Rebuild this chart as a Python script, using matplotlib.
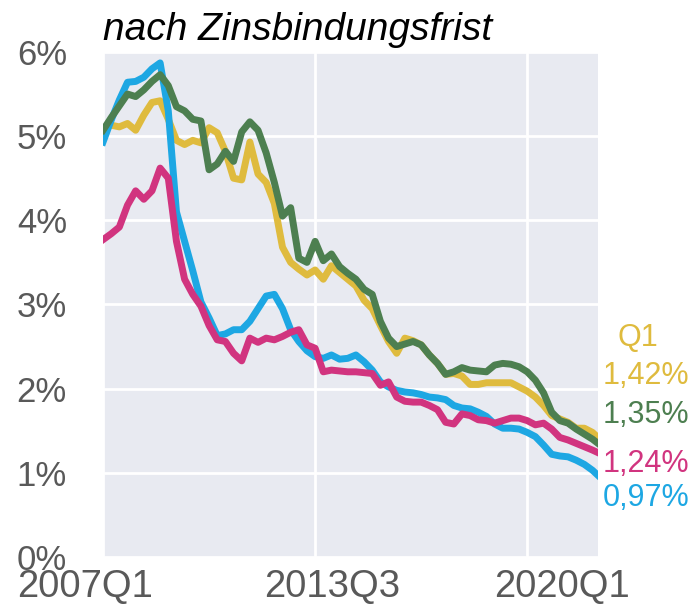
import numpy as np
import matplotlib
matplotlib.use('Agg')
from matplotlib import pyplot as plt

# monthly axis, 0 = Jan 2007, values read every quarter (last point = Mar 2022)
months = list(range(0, 181, 3)) + [182]

gold = [5.10, 5.13, 5.11, 5.15, 5.07, 5.25, 5.40, 5.42, 5.20, 4.95, 4.90, 4.95, 4.92, 5.10, 5.04, 4.82,
        4.50, 4.48, 4.93, 4.55, 4.45, 4.20, 3.68, 3.50, 3.42, 3.35, 3.41, 3.30, 3.46, 3.38, 3.30, 3.22,
        3.05, 2.95, 2.75, 2.56, 2.42, 2.60, 2.57, 2.52, 2.40, 2.30, 2.17, 2.18, 2.15, 2.05, 2.05, 2.07,
        2.07, 2.07, 2.07, 2.02, 1.97, 1.90, 1.80, 1.68, 1.64, 1.60, 1.53, 1.53, 1.48, 1.42]
green = [5.07, 5.22, 5.36, 5.50, 5.47, 5.55, 5.65, 5.73, 5.60, 5.35, 5.30, 5.20, 5.18, 4.60, 4.67, 4.82,
         4.70, 5.05, 5.17, 5.07, 4.80, 4.45, 4.05, 4.15, 3.55, 3.50, 3.75, 3.52, 3.60, 3.45, 3.37, 3.30,
         3.18, 3.12, 2.80, 2.60, 2.50, 2.53, 2.56, 2.52, 2.40, 2.30, 2.17, 2.20, 2.25, 2.22, 2.21, 2.20,
         2.28, 2.30, 2.29, 2.26, 2.20, 2.10, 1.95, 1.72, 1.62, 1.59, 1.52, 1.46, 1.40, 1.35]
magenta = [3.77, 3.84, 3.92, 4.18, 4.35, 4.25, 4.35, 4.62, 4.50, 3.75, 3.30, 3.12, 2.98, 2.75, 2.58, 2.56,
           2.42, 2.33, 2.60, 2.55, 2.60, 2.58, 2.62, 2.67, 2.70, 2.52, 2.48, 2.20, 2.22, 2.21, 2.20, 2.20,
           2.19, 2.18, 2.04, 2.08, 1.90, 1.85, 1.84, 1.84, 1.80, 1.75, 1.60, 1.58, 1.70, 1.68, 1.63, 1.62,
           1.59, 1.62, 1.65, 1.65, 1.62, 1.57, 1.59, 1.52, 1.42, 1.39, 1.35, 1.31, 1.27, 1.24]
blue = [4.93, 5.19, 5.43, 5.64, 5.65, 5.70, 5.80, 5.87, 5.30, 4.10, 3.75, 3.40, 3.03, 2.84, 2.63, 2.65,
        2.70, 2.70, 2.80, 2.95, 3.10, 3.12, 2.95, 2.70, 2.56, 2.45, 2.38, 2.36, 2.40, 2.35, 2.36, 2.40,
        2.32, 2.22, 2.08, 2.02, 1.98, 1.96, 1.95, 1.93, 1.90, 1.89, 1.87, 1.80, 1.77, 1.76, 1.72, 1.67,
        1.58, 1.53, 1.53, 1.52, 1.48, 1.43, 1.33, 1.22, 1.20, 1.19, 1.15, 1.10, 1.03, 0.97]

tick_months = [0, 78, 156]
tick_labels = ['2007Q1', '2013Q3', '2020Q1']
end_labels = ['1,42%', '1,35%', '1,24%', '0,97%']

c_gold = '#DFBB3E'
c_green = '#4D7F50'
c_magenta = '#D1347F'
c_blue = '#1DA7E3'
c_text = '#595959'

plt.rcParams['font.family'] = ['Liberation Sans', 'DejaVu Sans']

fig = plt.figure(figsize=(6.99, 6.07), dpi=100)
ax = fig.add_axes([0.1474, 0.0824, 0.708, 0.832])
ax.set_facecolor('#E8EAF1')

lw = 5
ax.plot(months, gold, color=c_gold, lw=lw, solid_joinstyle='round')
ax.plot(months, blue, color=c_blue, lw=lw, solid_joinstyle='round')
ax.plot(months, magenta, color=c_magenta, lw=lw, solid_joinstyle='round')
ax.plot(months, green, color=c_green, lw=lw, solid_joinstyle='round')

ax.set_xlim(0, 182)
ax.set_ylim(0, 6)
ax.set_yticks(range(0, 7))
ax.set_yticklabels([f'{i}%' for i in range(0, 7)], fontsize=25, color=c_text)
ax.set_xticks(tick_months)
ax.set_xticklabels([])
ax.tick_params(length=0, pad=26)
ax.grid(True, color='white', lw=2)
ax.set_axisbelow(True)
for s in ax.spines.values():
    s.set_visible(False)

# x labels sit a bit off their gridlines in the original
offsets = [-13, 12, 25]
for m, lab, dx in zip(tick_months, tick_labels, offsets):
    ax.annotate(lab, xy=(m, 0), xycoords=('data', 'axes fraction'), xytext=(dx, -8.5),
                textcoords='offset points', ha='center', va='top', fontsize=27.5, color=c_text)

ax.text(0, 1.008, 'nach Zinsbindungsfrist', transform=ax.transAxes, fontsize=28,
        style='italic', ha='left', va='bottom', color='black')

# end-of-series labels
ax.text(1.08, 0.433, 'Q1', transform=ax.transAxes, fontsize=22, color=c_gold, ha='center', va='center')
ys = [0.358, 0.281, 0.184, 0.117]
for lab, y, c in zip(end_labels, ys, [c_gold, c_green, c_magenta, c_blue]):
    ax.text(1.01, y, lab, transform=ax.transAxes, fontsize=22, color=c, ha='left', va='center')

fig.savefig('out.png', dpi=100)
